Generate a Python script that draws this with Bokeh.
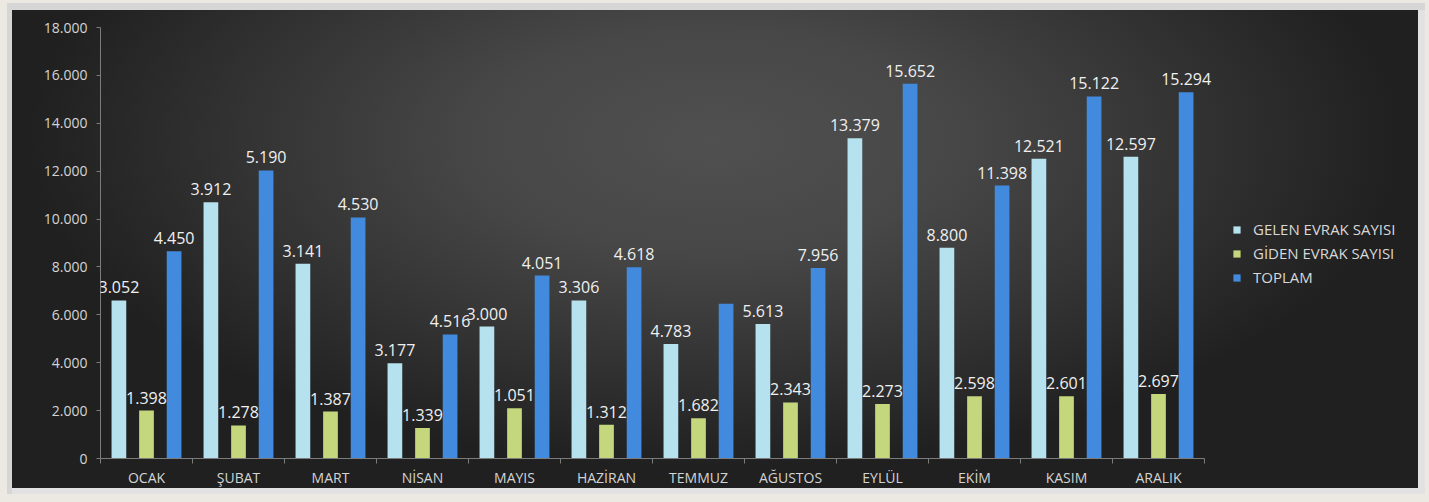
import numpy as np
from bokeh.plotting import figure
from bokeh.models import ColumnDataSource, Range1d, FixedTicker, LabelSet
from bokeh.core.properties import value
from bokeh.embed import file_html
from bokeh.resources import INLINE

# ---- data ----
months = ["OCAK", "ŞUBAT", "MART", "NİSAN", "MAYIS", "HAZİRAN", "TEMMUZ",
          "AĞUSTOS", "EYLÜL", "EKİM", "KASIM", "ARALIK"]
series_names = ["GELEN EVRAK SAYISI", "GİDEN EVRAK SAYISI", "TOPLAM"]
gelen = [6600, 10700, 8130, 3980, 5510, 6600, 4783, 5613, 13379, 8800, 12521, 12597]
giden = [2000, 1380, 1960, 1270, 2100, 1410, 1682, 2343, 2273, 2598, 2601, 2697]
toplam = [8660, 12030, 10070, 5180, 7640, 7990, 6465, 7956, 15652, 11398, 15122, 15294]
gelen_labels = ["3.052", "3.912", "3.141", "3.177", "3.000", "3.306", "4.783",
                "5.613", "13.379", "8.800", "12.521", "12.597"]
giden_labels = ["1.398", "1.278", "1.387", "1.339", "1.051", "1.312", "1.682",
                "2.343", "2.273", "2.598", "2.601", "2.697"]
toplam_labels = ["4.450", "5.190", "4.530", "4.516", "4.051", "4.618", "",
                 "7.956", "15.652", "11.398", "15.122", "15.294"]
y_ticks = [0, 2000, 4000, 6000, 8000, 10000, 12000, 14000, 16000, 18000]
y_tick_labels = ["0", "2.000", "4.000", "6.000", "8.000", "10.000", "12.000",
                 "14.000", "16.000", "18.000"]

colors = ["#b6e1ee", "#c4d77c", "#418ade"]
offsets = [-0.3, 0.0, 0.3]
bar_w = 0.16

n = len(months)
idx = np.arange(n)
centers = idx + 0.5

# layout: frame from x=100 to 1418, category axis occupies 100..1204
frame_left, frame_right, axis_right = 100, 1418, 1204
x_end = n * (frame_right - frame_left) / (axis_right - frame_left)

W, H = 1429, 502
p = figure(width=W, height=H, output_backend="svg", toolbar_location=None,
           x_range=Range1d(0, x_end), y_range=Range1d(0, 18000),
           min_border_left=frame_left, min_border_right=W - frame_right,
           min_border_top=27, min_border_bottom=H - 458)
p.border_fill_color = None
p.background_fill_color = None
p.outline_line_color = None
p.styles = {
    "background": "radial-gradient(ellipse 48% 65% at 50% 28%, #505050 0%, #474747 35%, #313131 72%, #202020 100%)",
    "box-shadow": ("inset 7px 3px 0 0 #ece9e3, inset -4px -8px 0 0 #ece9e3, "
                   "inset 12px 10px 0 0 #d6d6d6, inset -11px -14px 0 0 #e2e2e2"),
}
p.grid.visible = False

vals = [gelen, giden, toplam]
labs = [gelen_labels, giden_labels, toplam_labels]
for name, v, lab, c, off in zip(series_names, vals, labs, colors, offsets):
    src = ColumnDataSource(dict(x=centers + off, top=v, lab=lab))
    p.vbar(x="x", top="top", width=bar_w, source=src, fill_color=c,
           line_color=None, legend_label=name)
    ls = LabelSet(x="x", y="top", text="lab", source=src, text_align="center",
                  text_baseline="alphabetic", y_offset=7, text_color="#f0f0f0",
                  text_font=value("Open Sans"), text_font_size="16px")
    p.add_layout(ls)

# y axis
p.yaxis.ticker = FixedTicker(ticks=y_ticks)
p.yaxis.major_label_overrides = {t: l for t, l in zip(y_ticks, y_tick_labels)}
p.yaxis.axis_line_color = "#7c7c7c"
p.yaxis.major_tick_line_color = "#7c7c7c"
p.yaxis.major_tick_out = 4
p.yaxis.major_tick_in = 0
p.yaxis.minor_tick_line_color = None
p.yaxis.major_label_text_color = "#d4d4d4"
p.yaxis.major_label_text_font = "Open Sans"
p.yaxis.major_label_text_font_size = "14px"
p.yaxis.major_label_standoff = 9

# x axis
p.xaxis.bounds = (0, n)
p.xaxis.ticker = FixedTicker(ticks=list(centers), minor_ticks=list(np.arange(n + 1)))
p.xaxis.major_label_overrides = {float(c): m for c, m in zip(centers, months)}
p.xaxis.axis_line_color = "#7c7c7c"
p.xaxis.major_tick_line_color = None
p.xaxis.major_tick_out = 0
p.xaxis.major_tick_in = 0
p.xaxis.minor_tick_line_color = "#7c7c7c"
p.xaxis.minor_tick_out = 5
p.xaxis.minor_tick_in = 0
p.xaxis.major_label_text_color = "#d4d4d4"
p.xaxis.major_label_text_font = "Open Sans"
p.xaxis.major_label_text_font_size = "14px"
p.xaxis.major_label_standoff = 4

lg = p.legend[0]
lg.location = (1132, 169)
lg.background_fill_alpha = 0
lg.border_line_color = None
lg.label_text_color = "#d8d8d8"
lg.label_text_font = "Open Sans"
lg.label_text_font_size = "15px"
lg.glyph_width = 9
lg.glyph_height = 9
lg.label_height = 24
lg.label_standoff = 12
lg.spacing = 0
lg.padding = 0
lg.margin = 0

open("out.html", "w").write(file_html(p, INLINE))
